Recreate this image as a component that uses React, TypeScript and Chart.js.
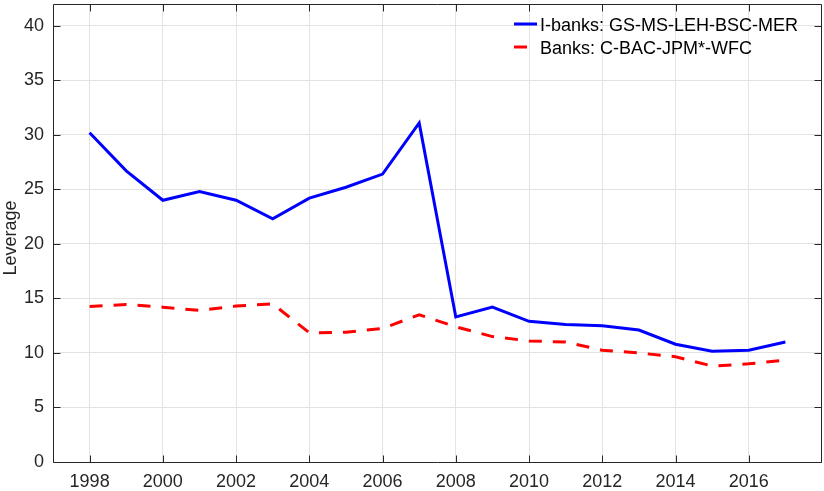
import React, { useEffect, useRef } from "react";
import { Chart, registerables } from "chart.js";

Chart.register(...registerables);

const years = [1998, 1999, 2000, 2001, 2002, 2003, 2004, 2005, 2006, 2007, 2008, 2009, 2010, 2011, 2012, 2013, 2014, 2015, 2016, 2017];
const iBanks = [30.2, 26.7, 24.0, 24.8, 24.0, 22.3, 24.2, 25.2, 26.4, 31.1, 13.3, 14.2, 12.9, 12.6, 12.5, 12.1, 10.8, 10.15, 10.25, 11.0];
const banks = [14.25, 14.45, 14.2, 13.9, 14.3, 14.5, 11.85, 11.9, 12.25, 13.5, 12.4, 11.5, 11.1, 11.0, 10.25, 10.0, 9.65, 8.8, 9.0, 9.35];
const xTicks = [1998, 2000, 2002, 2004, 2006, 2008, 2010, 2012, 2014, 2016];
const yTicks = [0, 5, 10, 15, 20, 25, 30, 35, 40];
const seriesLabels = ["I-banks: GS-MS-LEH-BSC-MER", "Banks: C-BAC-JPM*-WFC"];
const yTitle = "Leverage";

const FONT = "'Liberation Sans', Arial, Helvetica, sans-serif";
const AXIS_COLOR = "#262626";
const BLUE = "#0000ff";
const RED = "#ff0000";
const DASH = [13, 11];

const boxPlugin = {
  id: "matlabBox",
  afterDraw(chart: any) {
    const { ctx, chartArea } = chart;
    const xs = chart.scales.x;
    const ys = chart.scales.y;
    const L = Math.round(chartArea.left) + 0.5;
    const R = Math.round(chartArea.right) - 0.5;
    const T = Math.round(chartArea.top) + 0.5;
    const B = Math.round(chartArea.bottom) + 0.5;
    const tl = 7;
    ctx.save();
    ctx.strokeStyle = AXIS_COLOR;
    ctx.lineWidth = 1;
    ctx.beginPath();
    ctx.rect(L, T, R - L, B - T);
    for (const v of xTicks) {
      const px = Math.round(xs.getPixelForValue(v)) + 0.5;
      ctx.moveTo(px, B);
      ctx.lineTo(px, B - tl);
      ctx.moveTo(px, T);
      ctx.lineTo(px, T + tl);
    }
    for (const v of yTicks) {
      const py = Math.round(ys.getPixelForValue(v)) + 0.5;
      ctx.moveTo(L, py);
      ctx.lineTo(L + tl, py);
      ctx.moveTo(R, py);
      ctx.lineTo(R - tl, py);
    }
    ctx.stroke();

    // y-axis title
    ctx.fillStyle = AXIS_COLOR;
    ctx.font = `18px ${FONT}`;
    ctx.textAlign = "center";
    ctx.textBaseline = "middle";
    ctx.translate(11, 238);
    ctx.rotate(-Math.PI / 2);
    ctx.fillText(yTitle, 0, 0);
    ctx.restore();

    // legend
    ctx.save();
    ctx.font = `18px ${FONT}`;
    ctx.fillStyle = "#000000";
    ctx.textAlign = "left";
    ctx.textBaseline = "alphabetic";
    const colors = [BLUE, RED];
    const rows = [24, 47];
    seriesLabels.forEach((lab, i) => {
      ctx.strokeStyle = colors[i];
      ctx.lineWidth = 3;
      ctx.setLineDash(i === 1 ? DASH : []);
      ctx.beginPath();
      ctx.moveTo(514, rows[i]);
      ctx.lineTo(537, rows[i]);
      ctx.stroke();
      ctx.fillText(lab, 540, rows[i] + 7);
    });
    ctx.restore();
  },
};

export default function App() {
  const ref = useRef<HTMLCanvasElement | null>(null);
  useEffect(() => {
    if (!ref.current) return;
    const chart = new Chart(ref.current, {
      type: "line",
      data: {
        datasets: [
          {
            label: seriesLabels[0],
            data: years.map((x, i) => ({ x, y: iBanks[i] })),
            borderColor: BLUE,
            backgroundColor: BLUE,
            borderWidth: 3,
            pointRadius: 0,
            tension: 0,
            fill: false,
          },
          {
            label: seriesLabels[1],
            data: years.map((x, i) => ({ x, y: banks[i] })),
            borderColor: RED,
            backgroundColor: RED,
            borderWidth: 3,
            borderDash: DASH,
            pointRadius: 0,
            tension: 0,
            fill: false,
          },
        ],
      },
      options: {
        responsive: false,
        animation: false,
        maintainAspectRatio: false,
        layout: { padding: { left: 0, right: 2, top: 4, bottom: 0 } },
        plugins: { legend: { display: false }, tooltip: { enabled: false } },
        scales: {
          x: {
            type: "linear",
            min: 1997,
            max: 2018,
            afterBuildTicks: (s: any) => {
              s.ticks = xTicks.map((v) => ({ value: v }));
            },
            afterFit: (s: any) => {
              s.height = 29;
              s.paddingLeft = 0;
              s.paddingRight = 0;
              s.paddingTop = 0;
              s.paddingBottom = 0;
            },
            grid: { color: "#e3e3e3", lineWidth: 1, drawTicks: false },
            border: { display: false },
            ticks: {
              autoSkip: false,
              maxRotation: 0,
              padding: 9,
              color: AXIS_COLOR,
              font: { size: 18, family: FONT },
              callback: (v: any) => String(v),
            },
          },
          y: {
            type: "linear",
            min: 0,
            max: 42,
            afterBuildTicks: (s: any) => {
              s.ticks = yTicks.map((v) => ({ value: v }));
            },
            afterFit: (s: any) => {
              s.width = 53;
              s.paddingLeft = 0;
              s.paddingRight = 0;
              s.paddingTop = 0;
              s.paddingBottom = 0;
            },
            grid: { color: "#e3e3e3", lineWidth: 1, drawTicks: false },
            border: { display: false },
            ticks: {
              autoSkip: false,
              padding: 9,
              color: AXIS_COLOR,
              font: { size: 18, family: FONT },
              callback: (v: any) => String(v),
            },
          },
        },
      },
      plugins: [boxPlugin],
    });
    return () => chart.destroy();
  }, []);
  return (
    <div style={{ position: "fixed", left: 0, top: 0, width: 824, height: 491, background: "#fff" }}>
      <canvas ref={ref} width={824} height={491} style={{ display: "block" }} />
    </div>
  );
}
